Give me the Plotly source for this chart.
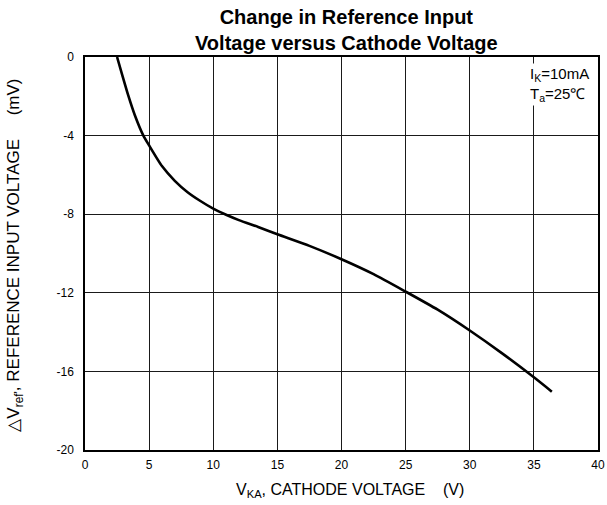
import plotly.graph_objects as go

vka = [2.5, 2.9, 3.36, 3.88, 4.55, 5.0, 6.0, 7.0, 8.0, 9.0, 10.0, 11.0, 12.0, 13.5, 15.0, 17.5, 20.0, 22.5, 25.0, 27.5, 30.0, 32.5, 35.0, 36.4]
dvref = [0.0, -0.91, -1.93, -2.95, -4.0, -4.5, -5.55, -6.3, -6.88, -7.33, -7.72, -8.03, -8.3, -8.65, -9.02, -9.61, -10.29, -11.05, -11.94, -12.86, -13.92, -15.07, -16.3, -17.03]

x_ticks = [0, 5, 10, 15, 20, 25, 30, 35, 40]
y_ticks = [0, -4, -8, -12, -16, -20]

FONT = "Liberation Sans, Arial, sans-serif"
NB = "\u00a0"

fig = go.Figure()
fig.add_trace(go.Scatter(x=vka, y=dvref, mode="lines",
                         line=dict(color="black", width=2.6, shape="spline", smoothing=0.6),
                         showlegend=False, hoverinfo="skip"))

fig.update_layout(
    width=607, height=505,
    margin=dict(l=85, r=9, t=57, b=55),
    paper_bgcolor="white", plot_bgcolor="white",
    font=dict(family=FONT, color="black", size=12),
    xaxis=dict(range=[0, 40], tickvals=x_ticks, ticktext=[str(v) for v in x_ticks],
               showgrid=True, gridcolor="#1a1a1a", gridwidth=1,
               showline=True, linecolor="black", linewidth=1.5, mirror=True,
               zeroline=False, ticks="", ticklabelstandoff=3, automargin=False,
               tickfont=dict(size=12, family=FONT)),
    yaxis=dict(range=[-20, 0], tickvals=y_ticks, ticktext=[str(v) for v in y_ticks],
               showgrid=True, gridcolor="#1a1a1a", gridwidth=1,
               showline=True, linecolor="black", linewidth=1.5, mirror=True,
               zeroline=False, ticks="", ticklabelstandoff=7, automargin=False,
               tickfont=dict(size=12, family=FONT)),
    annotations=[
        dict(text="<b>Change in Reference Input<br>Voltage versus Cathode Voltage</b>",
             xref="paper", yref="paper", x=0.51, y=1.0, yshift=1, xanchor="center", yanchor="bottom",
             showarrow=False, font=dict(size=20, family=FONT), align="center"),
        dict(text="I<sub>K</sub>=10mA<br>T<sub>a</sub>=25\u2103",
             xref="paper", yref="paper", x=0.986, y=0.985, xanchor="right", yanchor="top",
             showarrow=False, font=dict(size=15, family=FONT), align="left",
             bgcolor="white", borderpad=1),
        dict(text="V<sub>KA</sub>, CATHODE VOLTAGE" + NB * 4 + "(V)",
             xref="paper", yref="paper", x=0.5166, y=-0.1018, xanchor="center", yanchor="middle",
             showarrow=False, font=dict(size=16, family=FONT)),
        dict(text="\u25b3V<sub>ref'</sub>, REFERENCE INPUT VOLTAGE" + NB * 5 + "(mV)",
             xref="paper", yref="paper", x=-0.1365, y=0.497, xanchor="center", yanchor="middle",
             textangle=-90, showarrow=False, font=dict(size=17, family=FONT)),
    ],
)

fig.write_html("out.html", config={"displayModeBar": False},
               post_script="document.body.style.margin='0';")
